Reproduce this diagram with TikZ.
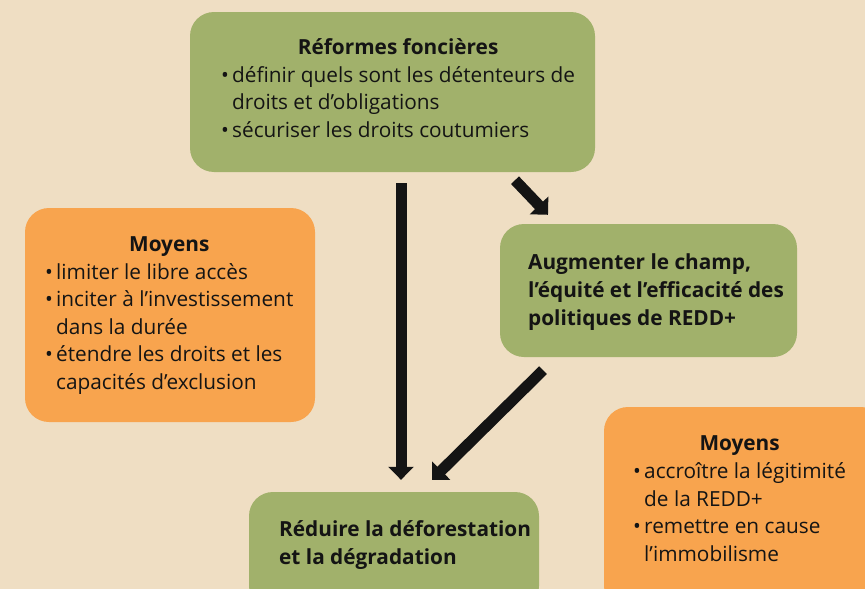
\documentclass[tikz,border=0pt]{standalone}
\usepackage{fontspec}
\setmainfont{Open Sans}
\usetikzlibrary{arrows.meta,calc}
\definecolor{bgc}{RGB}{239,222,195}
\definecolor{grn}{RGB}{161,177,107}
\definecolor{org}{RGB}{248,164,78}
\definecolor{ink}{RGB}{20,20,20}
\newcommand\bul{\makebox[11pt][l]{•}}
\newcommand\cont{\hspace{11pt}}
\begin{document}
\begin{tikzpicture}[x=1pt,y=-1pt,
  box/.style={rectangle,rounded corners=24pt,inner sep=0pt,draw=none},
  gbox/.style={box,fill=grn},
  obox/.style={box,fill=org},
  txt/.style={anchor=west,inner sep=0pt,text=ink,font=\fontsize{20.8}{27.6}\selectfont},
  arr/.style={line width=11pt,-{Triangle[width=25pt,length=13pt]},ink}]
\clip (0,0) rectangle (865,589);
\fill[bgc] (0,0) rectangle (865,589);
\node[gbox,minimum width=405pt,minimum height=160pt] (top) at (392.5,92) {};
\node[obox,minimum width=290pt,minimum height=214pt] (lo) at (170,315) {};
\node[gbox,minimum width=297pt,minimum height=133pt] (aug) at (648.5,290.5) {};
\node[gbox,minimum width=290pt,minimum height=118pt] (bot) at (394,551) {};
\node[obox,minimum width=281pt,minimum height=203pt] (ro) at (744.5,508.5) {};

\node[txt] (toptxt) at (221,90.5) {\begin{tabular}{@{}l@{}}
\multicolumn{1}{@{}c@{}}{\bfseries Réformes foncières}\\
\bul définir quels sont les détenteurs de\\
\cont droits et d’obligations\\
\bul sécuriser les droits coutumiers
\end{tabular}};
\node[txt] (lotxt) at (45,315) {\begin{tabular}{@{}l@{}}
\multicolumn{1}{@{}c@{}}{\bfseries Moyens}\\
\bul limiter le libre accès\\
\bul inciter à l’investissement\\
\cont dans la durée\\
\bul étendre les droits et les\\
\cont capacités d’exclusion
\end{tabular}};
\node[txt] (augtxt) at (528,292) {\begin{tabular}{@{}l@{}}
\bfseries Augmenter le champ,\\
\bfseries l’équité et l’efficacité des\\
\bfseries politiques de REDD+
\end{tabular}};
\node[txt] (bottxt) at (279,545) {\begin{tabular}{@{}l@{}}
\bfseries Réduire la déforestation\\
\bfseries et la dégradation
\end{tabular}};
\node[txt] (rotxt) at (633,500.5) {\begin{tabular}{@{}l@{}}
\multicolumn{1}{@{}c@{}}{\bfseries Moyens}\\
\bul accroître la légitimité\\
\cont de la REDD+\\
\bul remettre en cause\\
\cont l’immobilisme
\end{tabular}};

\draw[arr] ($(top.south)+(8.5,11)$) -- ($(bot.north)+(7,-12)$);
\draw[arr] ($(top.south)+(122.5,8)$) -- ($(aug.north)+(-100.5,-9)$);
\draw[arr] ($(aug.south)+(-105.5,13)$) -- ($(bot.north)+(38,-12)$);
\end{tikzpicture}
\end{document}
